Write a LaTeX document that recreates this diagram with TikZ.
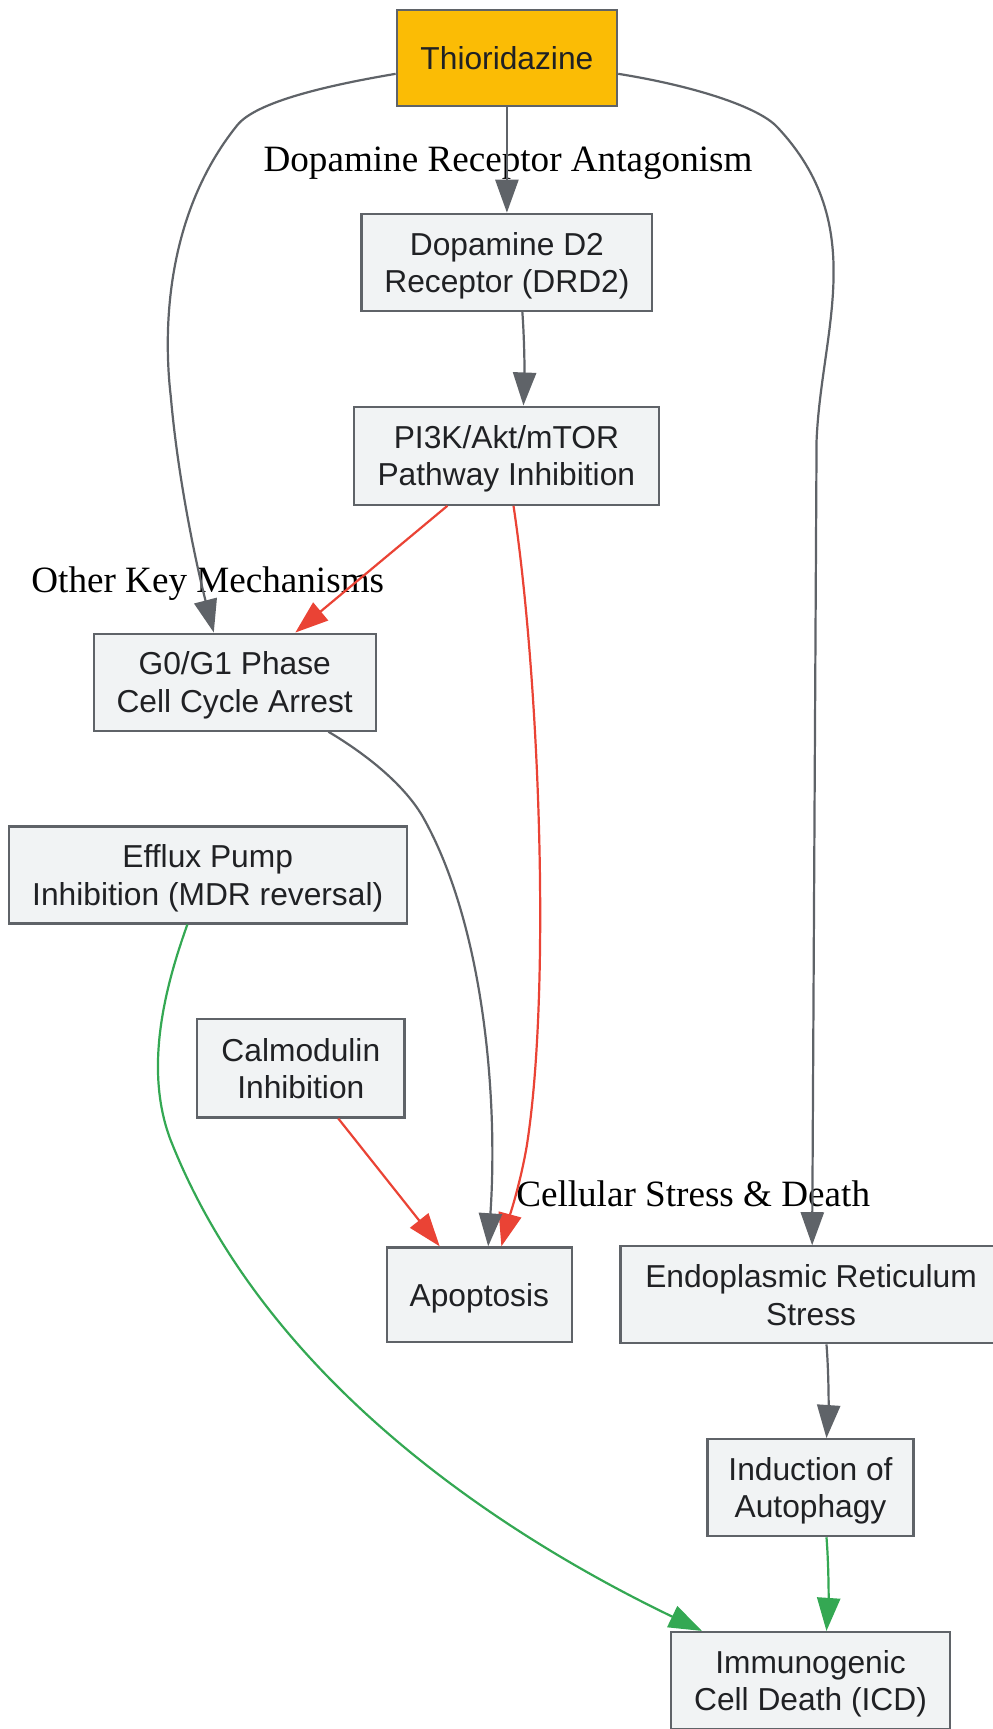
\documentclass[tikz,border=0pt]{standalone}
\usepackage{fontspec}
\setmainfont{Liberation Serif}
\newfontfamily\boxfont{Liberation Sans}
\usetikzlibrary{arrows.meta,calc}
\definecolor{edgegray}{HTML}{5F6368}
\definecolor{boxfill}{HTML}{F1F3F4}
\definecolor{txt}{HTML}{202124}
\definecolor{gold}{HTML}{FBBC05}
\definecolor{redc}{HTML}{EA4335}
\definecolor{greenc}{HTML}{34A853}
\begin{document}
\begin{tikzpicture}[x=0.5pt,y=-0.5pt,
  box/.style={draw=edgegray, line width=1pt, fill=boxfill, text=txt,
    font=\boxfont\fontsize{14.4pt}{17pt}\selectfont, align=center, inner sep=0pt, text depth=0pt},
  lbl/.style={font=\fontsize{16.85pt}{20pt}\selectfont, text=black, anchor=base, inner sep=0pt},
  conn/.style={line width=1pt, -{Triangle[length=15pt,width=10.5pt]}},
  grayconn/.style={conn, color=edgegray},
  redconn/.style={conn, color=redc},
  greenconn/.style={conn, color=greenc}]
\useasboundingbox (0,0) rectangle (901,1569);

% group labels
\node[lbl] (lab1) at (461,156) {Dopamine Receptor Antagonism};
\node[lbl] (lab2) at (188.5,538) {Other Key Mechanisms};
\node[lbl] (lab3) at (629,1095) {Cellular Stress \& Death};

% nodes
\node[box, fill=gold, minimum width=100pt, minimum height=43.5pt] (thio) at (460,52.5) {Thioridazine};
\node[box, minimum width=132pt, minimum height=44pt] (drd2) at (460,238) {Dopamine D2\\Receptor (DRD2)};
\node[box, minimum width=138.5pt, minimum height=44.5pt] (pi3k) at (459.5,413.5) {PI3K/Akt/mTOR\\Pathway Inhibition};
\node[box, minimum width=128pt, minimum height=44pt] (g0) at (213,619) {G0/G1 Phase\\Cell Cycle Arrest};
\node[box, minimum width=180.5pt, minimum height=44pt] (efflux) at (188.5,794) {Efflux Pump\\Inhibition (MDR reversal)};
\node[box, minimum width=94pt, minimum height=44.5pt] (calm) at (273,969.5) {Calmodulin\\Inhibition};
\node[box, minimum width=84pt, minimum height=43pt] (apop) at (435,1175) {Apoptosis};
\node[box, minimum width=173pt, minimum height=44pt] (er) at (736,1175) {Endoplasmic Reticulum\\Stress};
\node[box, minimum width=93.5pt, minimum height=44pt] (auto) at (735.5,1350) {Induction of\\Autophagy};
\node[box, minimum width=126.5pt, minimum height=44pt] (icd) at (735.5,1525) {Immunogenic\\Cell Death (ICD)};

% connectors
\draw[grayconn] (thio.south) -- (drd2.north);
\draw[grayconn] ($(drd2.south)+(14,0)$) .. controls (476,310) and (476,340) .. ($(pi3k.north)+(15.5,0)$);
\draw[grayconn] ($(thio.west)+(0,14.5)$) .. controls (300,77) and (232,92) .. (215,114)
   .. controls (150,195) and (148,300) .. (155,360)
   .. controls (162,440) and (180,520) .. ($(g0.north)+(-19,0)$);
\draw[grayconn] ($(thio.east)+(0,14.5)$) .. controls (630,78) and (688,97) .. (705,115)
   .. controls (790,205) and (745,300) .. (741,400) -- ($(er.north)+(1,0)$);
\draw[redconn] ($(pi3k.south)+(-53.5,0)$) -- ($(g0.north)+(55,0)$);
\draw[redconn] ($(pi3k.south)+(6.5,0)$) .. controls (490,620) and (500,900) .. (478,1040)
   .. controls (472,1075) and (462,1105) .. ($(apop.north)+(20,0)$);
\draw[grayconn] ($(g0.south)+(85,0)$) .. controls (330,683) and (365,710) .. (383,740)
   .. controls (440,840) and (452,1000) .. ($(apop.north)+(8,0)$);
\draw[greenconn] ($(efflux.south)+(-18.5,0)$) .. controls (150,895) and (130,970) .. (155,1035)
   .. controls (240,1250) and (450,1390) .. ($(icd.north)+(-98.5,0)$);
\draw[redconn] ($(calm.south)+(34,0)$) -- ($(apop.north)+(-36,0)$);
\draw[grayconn] ($(er.south)+(14,0)$) .. controls (752,1245) and (752,1275) .. ($(auto.north)+(14.5,0)$);
\draw[greenconn] ($(auto.south)+(14.5,0)$) .. controls (752,1420) and (752,1450) .. ($(icd.north)+(14.5,0)$);
\end{tikzpicture}
\end{document}
